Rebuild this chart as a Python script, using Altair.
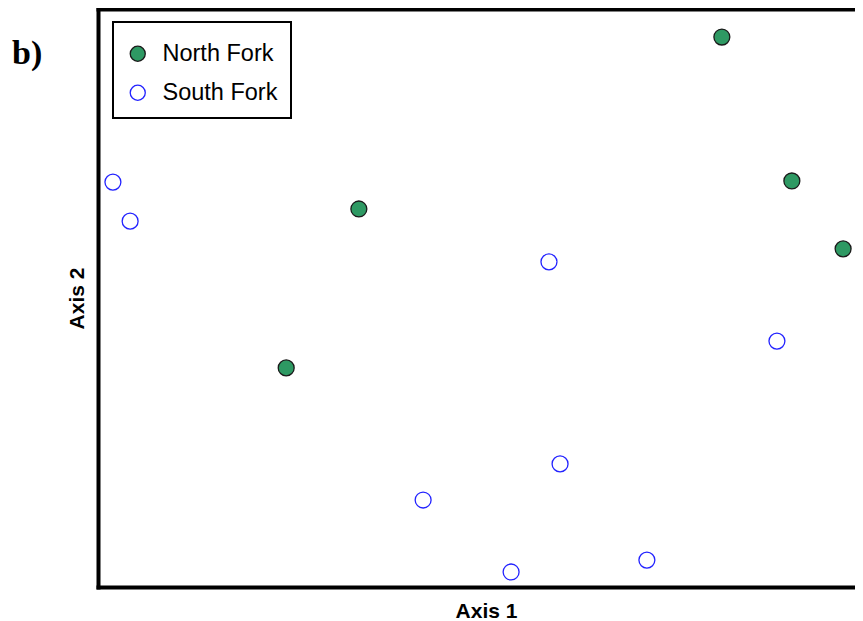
import altair as alt
import pandas as pd

# Site scores (arbitrary ordination units)
north_x = [0.631, 0.814, 0.948, -0.318, -0.508]
north_y = [0.903, 0.405, 0.170, 0.308, -0.242]
south_x = [-0.961, -0.916, 0.179, 0.775, 0.208, -0.150, 0.080, 0.435]
south_y = [0.401, 0.266, 0.125, -0.149, -0.574, -0.699, -0.948, -0.907]
groups = ["North Fork", "South Fork"]

df = pd.DataFrame({
    "Axis 1": north_x + south_x,
    "Axis 2": north_y + south_y,
    "Group": [groups[0]] * len(north_x) + [groups[1]] * len(south_x),
})

W, H = 765, 578

xscale = alt.Scale(domain=[-1, 1], nice=False, zero=False)
yscale = alt.Scale(domain=[-1, 1], nice=False, zero=False)

axis_common = dict(labels=False, ticks=False, grid=False, domainColor="black",
                   domainWidth=4, domainCap="square",
                   titleFont="Liberation Sans", titleFontSize=21,
                   titleFontWeight="bold", titleColor="black")

points = alt.Chart(df).mark_point(filled=True, size=254, opacity=1, strokeWidth=1.3).encode(
    x=alt.X("Axis 1:Q", scale=xscale,
            axis=alt.Axis(title="Axis 1", orient="bottom", titleBaseline="alphabetic",
                          titleY=30, titleX=388, titleAlign="center", **axis_common)),
    y=alt.Y("Axis 2:Q", scale=yscale,
            axis=alt.Axis(title="Axis 2", orient="left", titlePadding=11, **axis_common)),
    fill=alt.Fill("Group:N", scale=alt.Scale(domain=groups, range=["#2e9963", "white"]),
                  legend=alt.Legend(title=" ", titleFontSize=4, titlePadding=3,
                                    orient="none", legendX=15, legendY=13,
                                    strokeColor="black", padding=13,
                                    symbolSize=227, symbolStrokeWidth=1.3,
                                    labelFont="Liberation Sans", labelFontSize=23.5,
                                    labelColor="black", labelOffset=13, rowPadding=14,
                                    symbolType="circle", fillColor="white")),
    stroke=alt.Stroke("Group:N", scale=alt.Scale(domain=groups, range=["#1a1a1a", "#2222ff"]),
                      legend=None),
    shape=alt.value("circle"),
)

top_border = alt.Chart(df).mark_point(opacity=0).encode(
    x=alt.X("Axis 1:Q", scale=xscale,
            axis=alt.Axis(title=None, orient="top", **axis_common)),
)

label = alt.Chart(pd.DataFrame({"t": ["b)"]})).mark_text(
    font="Liberation Serif", fontSize=34, fontWeight="bold", align="left",
    baseline="alphabetic", color="black"
).encode(x=alt.value(-86), y=alt.value(55), text="t:N")

chart = alt.layer(points, top_border, label).resolve_axis(x="independent").properties(
    width=W, height=H,
    autosize=alt.AutoSizeParams(type="none"),
    padding={"left": 90, "top": 1, "right": -8, "bottom": 34},
).configure_view(stroke=None).configure_legend(strokeWidth=2)

chart.save("out.html", embed_options={"renderer": "svg", "actions": False})
